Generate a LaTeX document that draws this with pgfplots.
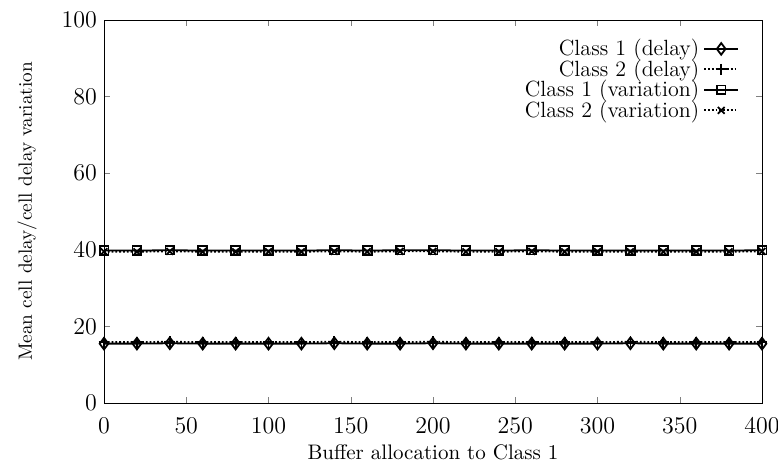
\documentclass[border=0pt]{standalone}
\usepackage{pgfplots}
\pgfplotsset{compat=1.18}
\usetikzlibrary{calc}
\begin{document}
\begin{tikzpicture}
\begin{axis}[
  scale only axis, width=329pt, height=191.5pt,
  xmin=0, xmax=400, ymin=0, ymax=100,
  xtick={0,50,...,400}, ytick={0,20,...,100},
  tick align=inside, major tick length=3pt,
  tick label style={font=\large},
  xticklabel style={yshift=-4pt},
  xlabel={Buffer allocation to Class 1},
  ylabel={Mean cell delay/cell delay variation},
  xlabel style={at={(axis description cs:0.5,-0.128)}, anchor=center, font=\fontsize{10.5}{12}\selectfont},
  ylabel style={at={(axis description cs:-0.117,0.5)}, anchor=center, font=\fontsize{9.6}{11}\selectfont},
  legend style={draw=none, fill=none, at={(0.975,0.972)}, anchor=north east,
    font=\fontsize{11}{12}\selectfont, row sep=-3.5pt},
  legend cell align=right, legend plot pos=right,
  every axis plot/.append style={black, line width=0.9pt},
]
\addplot[mark=diamond, mark size=2.9pt, mark options={solid}] coordinates {
(0,15.5)(20,15.5)(40,15.6)(60,15.5)(80,15.5)(100,15.5)(120,15.5)(140,15.6)(160,15.5)(180,15.5)(200,15.6)
(220,15.5)(240,15.5)(260,15.5)(280,15.5)(300,15.5)(320,15.6)(340,15.5)(360,15.5)(380,15.5)(400,15.5)};
\addlegendentry{Class 1 (delay)}
\addplot[densely dotted, mark=+, mark size=2.7pt, mark options={solid}] coordinates {
(0,15.9)(20,15.9)(40,16.0)(60,15.9)(80,15.9)(100,15.9)(120,15.9)(140,16.0)(160,15.9)(180,15.9)(200,16.0)
(220,15.9)(240,15.9)(260,15.9)(280,15.9)(300,15.9)(320,16.0)(340,15.9)(360,15.9)(380,15.9)(400,15.9)};
\addlegendentry{Class 2 (delay)}
\addplot[mark=square, mark size=2.2pt, mark options={solid}] coordinates {
(0,39.8)(20,39.8)(40,39.9)(60,39.8)(80,39.8)(100,39.8)(120,39.8)(140,39.9)(160,39.8)(180,39.9)(200,39.9)
(220,39.8)(240,39.8)(260,39.9)(280,39.8)(300,39.8)(320,39.8)(340,39.8)(360,39.8)(380,39.8)(400,39.9)};
\addlegendentry{Class 1 (variation)}
\addplot[densely dotted, mark=x, mark size=2.4pt, mark options={solid}] coordinates {
(0,39.5)(20,39.5)(40,39.6)(60,39.5)(80,39.5)(100,39.5)(120,39.5)(140,39.6)(160,39.5)(180,39.6)(200,39.6)
(220,39.5)(240,39.5)(260,39.6)(280,39.5)(300,39.5)(320,39.5)(340,39.5)(360,39.5)(380,39.5)(400,39.6)};
\addlegendentry{Class 2 (variation)}
\end{axis}
\pgfresetboundingbox
\useasboundingbox ($(current axis.south west)+(-52pt,-29.5pt)$) rectangle ($(current axis.north east)+(8pt,10pt)$);
\end{tikzpicture}
\end{document}
